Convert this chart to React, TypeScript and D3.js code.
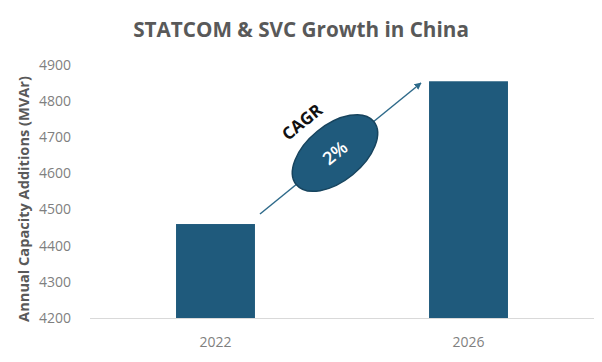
import React from "react";
import * as d3 from "d3";

const categories = ["2022", "2026"];
const values = [4460, 4855];
const yTicks = [4200, 4300, 4400, 4500, 4600, 4700, 4800, 4900];
const title = "STATCOM & SVC Growth in China";
const yTitle = "Annual Capacity Additions (MVAr)";
const cagrLabel = "CAGR";
const cagrValue = "2%";

const W = 602, H = 362;
const FONT = "'Open Sans', 'Noto Sans', sans-serif";

export default function App() {
  const x = d3.scaleBand<string>().domain(categories).range([90, 594]).paddingInner(0.688).paddingOuter(0.34);
  const y = d3.scaleLinear().domain([4200, 4900]).range([318, 65]);
  const bw = x.bandwidth();

  const ax1 = 260, ay1 = 214, ax2 = 421, ay2 = 83;
  const ang = (Math.atan2(ay2 - ay1, ax2 - ax1) * 180) / Math.PI;
  const ecx = 335, ecy = 153;

  return (
    <svg width={W} height={H} style={{ position: "absolute", left: 0, top: 0, background: "#fff" }} fontFamily={FONT}>
      <defs>
        <marker id="arr" viewBox="0 0 10 10" refX="9" refY="5" markerWidth="7" markerHeight="7" orient="auto" markerUnits="userSpaceOnUse">
          <path d="M0,0 L10,5 L0,10 z" fill="#2E6A8A" />
        </marker>
      </defs>
      <text x={301} y={37} textAnchor="middle" fontSize={20.7} fontWeight={700} fill="#595959">{title}</text>
      <text transform={`translate(29,${199}) rotate(-90)`} textAnchor="middle" fontSize={14.6} fontWeight={700} fill="#595959">{yTitle}</text>
      {yTicks.map((t) => (
        <text key={t} x={71} y={y(t)} dy="0.35em" textAnchor="end" fontSize={14} fill="#7F7F7F">{t}</text>
      ))}
      {categories.map((c, i) => (
        <rect key={c} x={x(c)} y={y(values[i])} width={bw} height={y(4200) - y(values[i])} fill="#1F5A7C" />
      ))}
      <line x1={90} x2={594} y1={318.5} y2={318.5} stroke="#D9D9D9" strokeWidth={1.2} />
      {categories.map((c) => (
        <text key={c} x={(x(c) as number) + bw / 2} y={342} dy="0.35em" textAnchor="middle" fontSize={14} fill="#7F7F7F">{c}</text>
      ))}
      <line x1={ax1} y1={ay1} x2={ax2} y2={ay2} stroke="#2E6A8A" strokeWidth={1.5} markerEnd="url(#arr)" />
      <g transform={`translate(${ecx},${ecy}) rotate(${ang})`}>
        <ellipse rx={50} ry={28} fill="#1F5A7C" stroke="#17445E" strokeWidth={1.5} />
        <text y={0} dy="0.35em" textAnchor="middle" fontSize={18} fontWeight={600} fill="#fff">{cagrValue}</text>
      </g>
      <g transform={`translate(302,122) rotate(${ang})`}>
        <text dy="0.35em" textAnchor="middle" fontSize={17} fontWeight={700} fill="#111">{cagrLabel}</text>
      </g>
    </svg>
  );
}
